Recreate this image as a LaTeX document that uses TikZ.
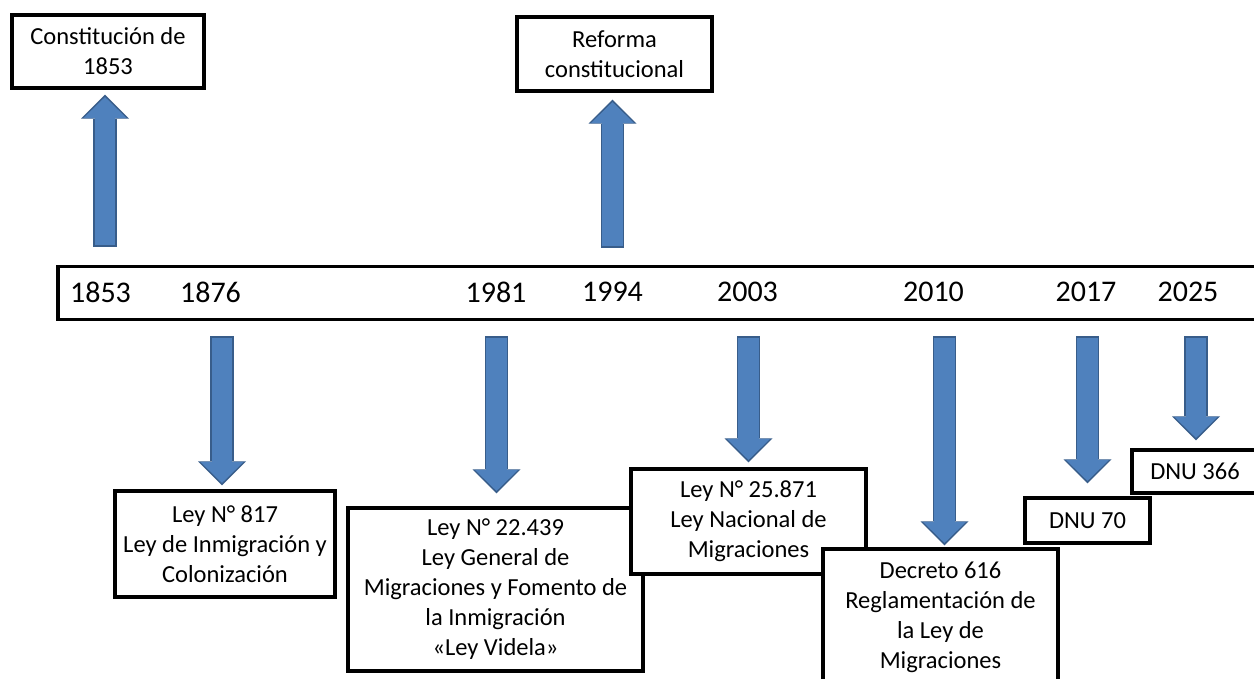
\documentclass[tikz,border=0pt]{standalone}
\usepackage{fontspec}
\setmainfont{Carlito}
\usepackage{tikz}
\usetikzlibrary{calc, arrows.meta}

\definecolor{arrowblue}{HTML}{4F81BD}
\definecolor{arrowedge}{HTML}{385D8A}

\tikzset{
    yearlabel/.style = {font=\fontsize{30}{36}\selectfont, inner sep=0pt},
    eventbox/.style  = {draw, line width=3.1pt, fill=white, align=center, inner sep=0pt,
                        font=\fontsize{24.5}{30}\selectfont},
    blockarrow/.style = {draw=arrowblue, line width=20.5pt, shorten <=1.5pt, shorten >=2.5pt,
                         -{Triangle[width=43pt, length=21pt, line width=0pt]},
                         preaction={draw=arrowedge, line width=23.5pt, shorten <=0pt, shorten >=0pt,
                                    -{Triangle[width=48pt, length=24pt, line width=0pt]}}}
}

\begin{document}
\begin{tikzpicture}[x = 1pt, y = -1pt]

    \useasboundingbox (0,0) rectangle (1254,679);

    % timeline
    \node[draw, line width=3.5pt, minimum width=1206pt, minimum height=53pt, inner sep=0pt,
          anchor=north west] (bar) at (56,265) {};
    \foreach \yr/\xx in {1853/100.5, 1876/210.5, 1981/496, 1994/612.5,
                         2003/747.5, 2010/933.5, 2017/1086, 2025/1188}
        \node[yearlabel] (y\yr) at (\xx,292) {\yr};

    % above the line
    \node[eventbox, minimum width=192pt, minimum height=73pt] (con1853) at (108,51.5)
        {Constitución de\\1853};
    \node[eventbox, minimum width=195pt, minimum height=74pt] (ref1994) at (614.5,54)
        {Reforma\\constitucional};

    % below the line
    \node[eventbox, minimum width=220pt, minimum height=106pt] (law1876) at (225,544)
        {Ley N° 817\\Ley de Inmigración y\\Colonización};
    \node[eventbox, minimum width=295pt, minimum height=163pt] (law1981) at (495.5,589.5)
        {Ley N° 22.439\\Ley General de\\Migraciones y Fomento de\\la Inmigración\\«Ley Videla»};
    \node[eventbox, minimum width=235pt, minimum height=105pt] (law2003) at (748.5,521.5)
        {Ley N° 25.871\\Ley Nacional de\\Migraciones};
    \node[eventbox, minimum width=235pt, minimum height=137pt] (dec2010) at (940.5,617.5)
        {Decreto 616\\Reglamentación de\\la Ley de\\Migraciones};
    \node[eventbox, minimum width=125pt, minimum height=45pt] (dnu2017) at (1087.5,520.5)
        {DNU 70};
    \node[eventbox, minimum width=126pt, minimum height=43pt] (dnu2025) at (1195,471.5)
        {DNU 366};

    % arrows
    \draw[blockarrow] ($(bar.north -| con1853.south)+(-3pt,18pt)$) -- ($(con1853.south)+(-3pt,-5pt)$);
    \draw[blockarrow] ($(bar.north -| ref1994.south)+(-2pt,17pt)$) -- ($(ref1994.south)+(-2pt,-7pt)$);
    \draw[blockarrow] ($(bar.south -| law1876.north)+(-3pt,-15pt)$) -- ($(law1876.north)+(-3pt,4pt)$);
    \draw[blockarrow] ($(bar.south -| law1981.north)+(1pt,-15pt)$) -- ($(law1981.north)+(1pt,13pt)$);
    \draw[blockarrow] ($(bar.south -| law2003.north)+(0,-15pt)$) -- ($(law2003.north)+(0,5pt)$);
    \draw[blockarrow] ($(bar.south -| dec2010.north)+(4pt,-15pt)$) -- ($(dec2010.north)+(4pt,2pt)$);
    \draw[blockarrow] ($(bar.south -| dnu2017.north)+(0,-15pt)$) -- ($(dnu2017.north)+(0,13pt)$);
    \draw[blockarrow] ($(bar.south -| dnu2025.north)+(1pt,-15pt)$) -- ($(dnu2025.north)+(1pt,8pt)$);

\end{tikzpicture}
\end{document}
